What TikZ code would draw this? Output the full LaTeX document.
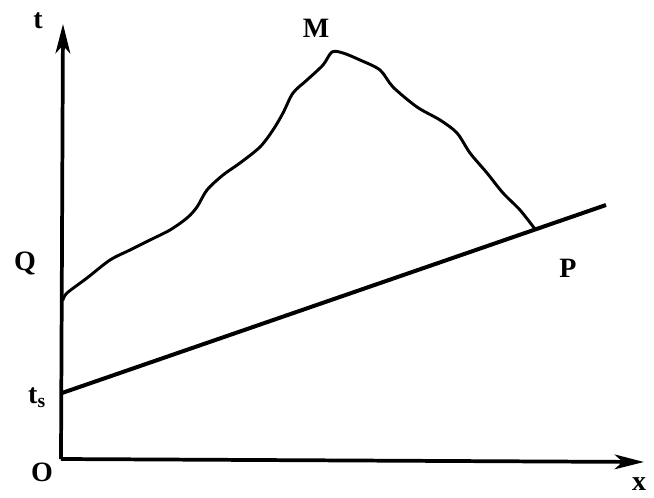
\documentclass[tikz,border=0pt]{standalone}
\usepackage{fontspec}
\setmainfont{Liberation Serif}
\usetikzlibrary{arrows.meta}
\usetikzlibrary{calc}

\begin{document}
\begin{tikzpicture}[x=0.75pt,y=0.75pt,yscale=-1,xscale=1,
  axis/.style={line width=2.8pt,-{Stealth[length=22pt,width=11pt,inset=6pt]}},
  curve/.style={line width=2.2pt,line join=round,line cap=round},
  lbl/.style={inner sep=0.75pt,font=\fontsize{21}{24}\selectfont\bfseries}]
\useasboundingbox (0,0) rectangle (654,497);

%Points
\coordinate (O) at (61,459);
\coordinate (T) at (63,24);
\coordinate (X) at (644,462);
\coordinate (ts) at (62,393);
\coordinate (E) at (606,205);
\coordinate (Q) at (63,300);
\coordinate (P) at ($(ts)!0.87!(E)$);
\coordinate (M) at (332,52);

%Axes
\draw [axis] (O) -- (T) ;
\draw [axis] (O) -- (X) ;
%Straight line from t_s
\draw [line width=3pt] (ts) -- (E) ;
%Curve Q -- M -- P
\draw [curve] plot [smooth,tension=0.5] coordinates {(Q) (67,293) (87,278) (110,260) (130,250) (150,240) (170,230) (187,218) (197,207) (207,190) (223,175) (240,163) (260,147) (273,130) (283,113) (293,93) (307,80) (323,65) (M) (343,53) (360,60) (380,70) (393,87) (417,107) (440,120) (457,133) (470,153) (487,173) (503,193) (520,210) (P)} ;

% Text Node
\node [lbl] (tl) at (38,21) {t};
% Text Node
\node [lbl] (Ml) at (316,28) {M};
% Text Node
\node [lbl] (Ql) at (25,263) {Q};
% Text Node
\node [lbl] (Pl) at (568,268) {P};
% Text Node
\node [lbl] (tsl) at (37,398) {t\textsubscript{s}};
% Text Node
\node [lbl] (Ol) at (42,472) {O};
% Text Node
\node [lbl] (xl) at (639,484) {x};

\end{tikzpicture}
\end{document}
